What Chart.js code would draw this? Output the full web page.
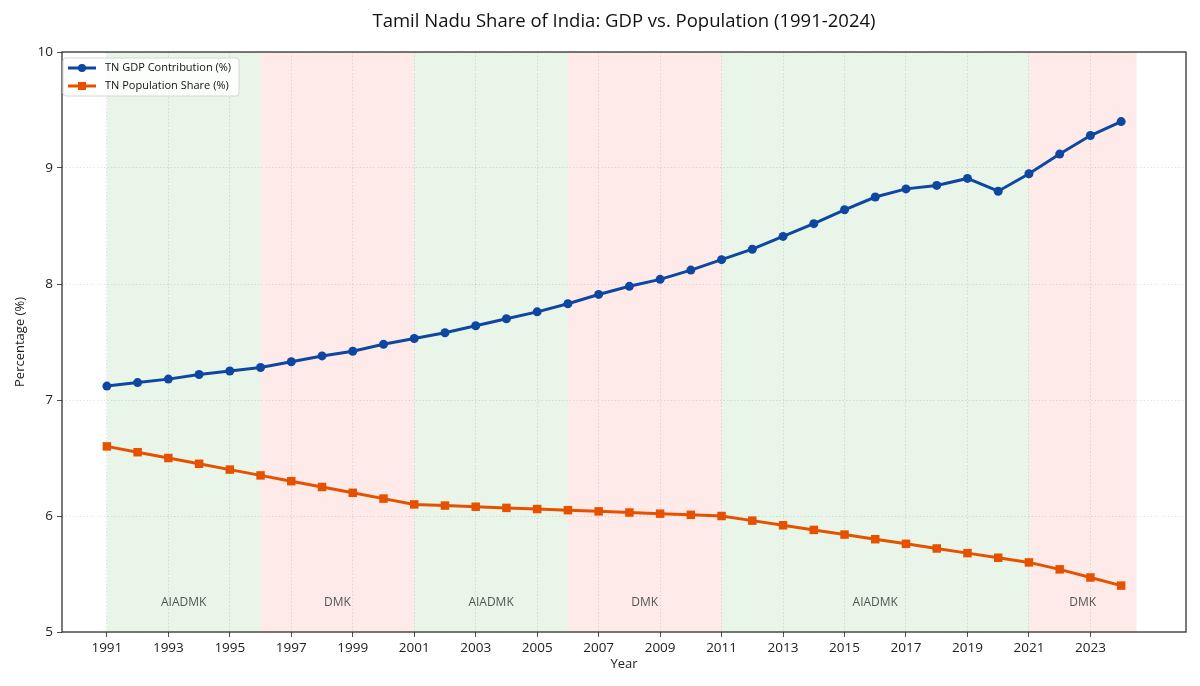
<!DOCTYPE html>
<html>
<head>
<meta charset="utf-8">
<script src="https://cdn.jsdelivr.net/npm/chart.js@4"></script>
<style>
  html, body { margin: 0; padding: 0; background: #fff; }
  #wrap { width: 1200px; height: 686px; }
</style>
</head>
<body>
<div id="wrap"><canvas id="canvas" width="1200" height="686"></canvas></div>
<script>
// Data
const years = [1991,1992,1993,1994,1995,1996,1997,1998,1999,2000,2001,2002,2003,2004,2005,2006,2007,
               2008,2009,2010,2011,2012,2013,2014,2015,2016,2017,2018,2019,2020,2021,2022,2023,2024];
const gdpShare = [7.12,7.15,7.18,7.22,7.25,7.28,7.33,7.38,7.42,7.48,7.53,7.58,7.64,7.70,7.76,7.83,7.91,
                  7.98,8.04,8.12,8.21,8.30,8.41,8.52,8.64,8.75,8.82,8.85,8.91,8.80,8.95,9.12,9.28,9.40];
const popShare = [6.60,6.55,6.50,6.45,6.40,6.35,6.30,6.25,6.20,6.15,6.10,6.09,6.08,6.07,6.06,6.05,6.04,
                  6.03,6.02,6.01,6.00,5.96,5.92,5.88,5.84,5.80,5.76,5.72,5.68,5.64,5.60,5.54,5.47,5.40];
const xTickYears = [1991,1993,1995,1997,1999,2001,2003,2005,2007,2009,2011,2013,2015,2017,2019,2021,2023];
const yTicks = [5,6,7,8,9,10];
// Ruling party spans
const spanStart = [1991, 1996, 2001, 2006, 2011, 2021];
const spanEnd   = [1996, 2001, 2006, 2011, 2021, 2024.5];
const spanParty = ['AIADMK', 'DMK', 'AIADMK', 'DMK', 'AIADMK', 'DMK'];

const FONT = "'Open Sans', 'Noto Sans', sans-serif";
const BLUE = '#0D47A1';
const ORANGE = '#E65100';
const partyFill = { AIADMK: 'rgba(76,175,80,0.13)', DMK: 'rgba(244,67,54,0.11)' };

const plotDecor = {
  id: 'plotDecor',
  beforeDraw(chart) {
    const ctx = chart.ctx, x = chart.scales.x, a = chart.chartArea;
    ctx.save();
    ctx.fillStyle = '#fff';
    ctx.fillRect(0, 0, chart.width, chart.height);
    for (let i = 0; i < spanStart.length; i++) {
      const x0 = x.getPixelForValue(spanStart[i]), x1 = x.getPixelForValue(spanEnd[i]);
      ctx.fillStyle = partyFill[spanParty[i]];
      ctx.fillRect(x0, a.top, x1 - x0, a.bottom - a.top);
    }
    ctx.restore();
  },
  beforeDatasetsDraw(chart) {
    const ctx = chart.ctx, x = chart.scales.x, y = chart.scales.y;
    ctx.save();
    ctx.font = '12px ' + FONT;
    ctx.fillStyle = '#555';
    ctx.textAlign = 'center';
    ctx.textBaseline = 'middle';
    for (let i = 0; i < spanStart.length; i++) {
      const cx = x.getPixelForValue((spanStart[i] + spanEnd[i]) / 2);
      ctx.fillText(spanParty[i], cx, y.getPixelForValue(5.25));
    }
    ctx.restore();
  },
  afterDraw(chart) {
    const ctx = chart.ctx, a = chart.chartArea;
    ctx.save();
    // frame
    ctx.strokeStyle = '#222';
    ctx.lineWidth = 1.2;
    ctx.strokeRect(a.left, a.top, a.right - a.left, a.bottom - a.top);
    // title
    ctx.fillStyle = '#111';
    ctx.font = '18.5px ' + FONT;
    ctx.textAlign = 'center';
    ctx.textBaseline = 'middle';
    ctx.fillText('Tamil Nadu Share of India: GDP vs. Population (1991-2024)', (a.left + a.right) / 2, 22);
    // legend box
    const lx = a.left + 1, ly = a.top + 6, lw = 176, lh = 38;
    ctx.fillStyle = 'rgba(255,255,255,0.85)';
    ctx.strokeStyle = '#d6d6d6';
    ctx.lineWidth = 1;
    ctx.beginPath();
    ctx.roundRect(lx, ly, lw, lh, 3);
    ctx.fill();
    ctx.stroke();
    const items = [
      { label: 'TN GDP Contribution (%)', color: BLUE, shape: 'circle' },
      { label: 'TN Population Share (%)', color: ORANGE, shape: 'square' }
    ];
    ctx.font = '11px ' + FONT;
    ctx.textAlign = 'left';
    items.forEach((it, i) => {
      const yy = ly + 10 + i * 18;
      ctx.strokeStyle = it.color;
      ctx.lineWidth = 3;
      ctx.beginPath();
      ctx.moveTo(lx + 5, yy);
      ctx.lineTo(lx + 33, yy);
      ctx.stroke();
      ctx.fillStyle = it.color;
      if (it.shape === 'circle') {
        ctx.beginPath();
        ctx.arc(lx + 19, yy, 4, 0, Math.PI * 2);
        ctx.fill();
      } else {
        ctx.fillRect(lx + 15, yy - 4, 8, 8);
      }
      ctx.fillStyle = '#111';
      ctx.fillText(it.label, lx + 42, yy);
    });
    ctx.restore();
  }
};

const ctx = document.getElementById('canvas').getContext('2d');
new Chart(ctx, {
  type: 'line',
  data: {
    datasets: [
      {
        label: 'TN GDP Contribution (%)',
        data: years.map((yr, i) => ({ x: yr, y: gdpShare[i] })),
        borderColor: BLUE,
        backgroundColor: BLUE,
        borderWidth: 3,
        pointStyle: 'circle',
        pointRadius: 4.5,
        pointBorderWidth: 0,
        tension: 0
      },
      {
        label: 'TN Population Share (%)',
        data: years.map((yr, i) => ({ x: yr, y: popShare[i] })),
        borderColor: ORANGE,
        backgroundColor: ORANGE,
        borderWidth: 3,
        pointStyle: 'rect',
        pointRadius: 6,
        pointBorderWidth: 0,
        tension: 0
      }
    ]
  },
  options: {
    responsive: false,
    animation: false,
    layout: { padding: { top: 52, right: 14, left: 12, bottom: 14 } },
    plugins: {
      legend: { display: false },
      title: { display: false },
      tooltip: { enabled: false }
    },
    scales: {
      x: {
        type: 'linear',
        min: 1989.54,
        max: 2026.11,
        afterBuildTicks: (s) => { s.ticks = xTickYears.map(v => ({ value: v })); },
        afterFit: (s) => { s.height = 40; },
        ticks: {
          color: '#222',
          font: { family: FONT, size: 13.5 },
          padding: 3,
          maxRotation: 0,
          autoSkip: false,
          callback: (v) => String(v)
        },
        grid: {
          color: 'rgba(0,0,0,0.13)',
          lineWidth: 0.8,
          tickLength: 5,
          tickColor: '#222',
          drawOnChartArea: true
        },
        border: { display: false, dash: [1.5, 2] },
        title: {
          display: true,
          text: 'Year',
          color: '#222',
          font: { family: FONT, size: 13 },
          padding: { top: 0, bottom: 0 }
        }
      },
      y: {
        min: 5,
        max: 10,
        afterBuildTicks: (s) => { s.ticks = yTicks.map(v => ({ value: v })); },
        afterFit: (s) => { s.width = 50; },
        ticks: {
          color: '#222',
          font: { family: FONT, size: 13.5 },
          padding: 4
        },
        grid: {
          color: 'rgba(0,0,0,0.13)',
          lineWidth: 0.8,
          tickLength: 5,
          tickColor: '#222'
        },
        border: { display: false, dash: [1.5, 2] },
        title: {
          display: true,
          text: 'Percentage (%)',
          color: '#222',
          font: { family: FONT, size: 13 },
          padding: { top: 0, bottom: 8 }
        }
      }
    }
  },
  plugins: [plotDecor]
});
</script>
</body>
</html>
